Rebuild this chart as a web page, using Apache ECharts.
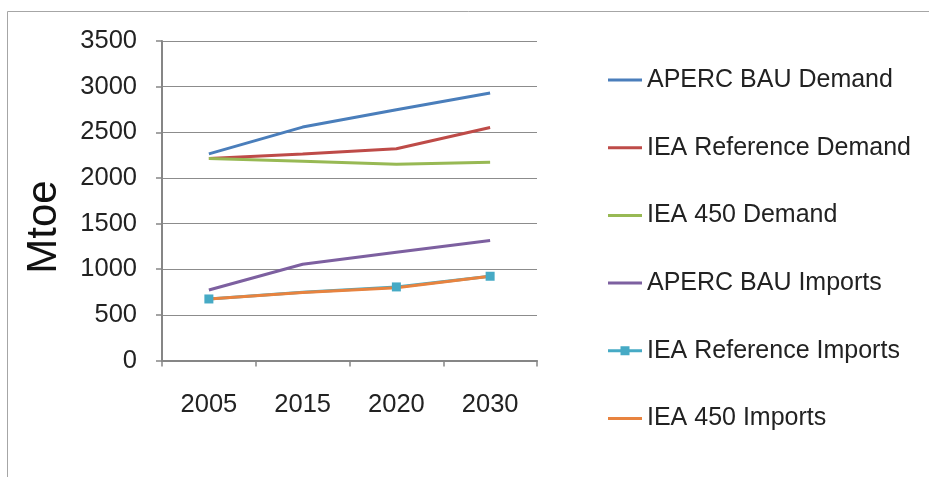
<!DOCTYPE html>
<html><head><meta charset="utf-8">
<script src="https://cdn.jsdelivr.net/npm/echarts@6/dist/echarts.min.js"></script>
<style>html,body{margin:0;padding:0;background:#fff}#c{width:929px;height:477px}</style>
</head><body><div id="c"></div>
<script>
const categories = ['2005', '2015', '2020', '2030'];
const apercBauDemand = [2264, 2557, 2747, 2930];
const ieaRefDemand = [2213, 2262, 2319, 2553];
const iea450Demand = [2213, 2184, 2151, 2173];
const apercBauImports = [773, 1055, 1186, 1314];
const ieaRefImports = [674, 748, 806, 923];
const iea450Imports = [674, 745, 798, 923];
const yTicks = [0, 500, 1000, 1500, 2000, 2500, 3000, 3500];
const seriesNames = ['APERC BAU Demand', 'IEA Reference Demand', 'IEA 450 Demand', 'APERC BAU Imports', 'IEA Reference Imports', 'IEA 450 Imports'];

const font = 'Liberation Sans, Arial, sans-serif';
const lineIcon = 'path://M0,0M34,14M0,5.5L34,5.5L34,8.5L0,8.5Z';
const markIcon = 'path://M0,0M34,14M0,5.5L12.5,5.5L12.5,2.5L21.5,2.5L21.5,5.5L34,5.5L34,8.5L21.5,8.5L21.5,11.5L12.5,11.5L12.5,8.5L0,8.5Z';
const chart = echarts.init(document.getElementById('c'));
function lineSeries(name, data, color, marker) {
  return {
    name, type: 'line', data: marker ? data.map((v, i) => i === 1 ? {value: v, symbolSize: 0} : v) : data,
    symbol: marker ? 'rect' : 'none', symbolSize: 9, showSymbol: !!marker,
    lineStyle: {color, width: 3}, itemStyle: {color},
    emphasis: {disabled: true}, animation: false
  };
}
chart.setOption({
  animation: false,
  grid: {left: 162, right: 392, top: 41, bottom: 116.5},
  graphic: [
    {type: 'line', shape: {x1: 7.5, y1: 11.5, x2: 929, y2: 11.5}, style: {stroke: '#a6a6a6', lineWidth: 1}},
    {type: 'line', shape: {x1: 7.5, y1: 11.5, x2: 7.5, y2: 477}, style: {stroke: '#a6a6a6', lineWidth: 1}},
    {type: 'text', x: 44, y: 227, rotation: Math.PI / 2,
      style: {text: 'Mtoe', font: '42px ' + font, fill: '#111', align: 'center', verticalAlign: 'middle'}}
  ],
  legend: {
    orient: 'vertical', left: 603, top: 61, itemWidth: 34, itemHeight: 14, itemGap: 39.7, itemTextGap: 1,
    textStyle: {fontFamily: font, fontSize: 25, color: '#222', lineHeight: 28},
    data: seriesNames.map((n, i) => ({name: n, icon: i === 4 ? markIcon : lineIcon}))
  },
  xAxis: {
    type: 'category', data: categories, boundaryGap: true,
    axisLine: {lineStyle: {color: '#868686', width: 2}},
    axisTick: {show: true, length: 6, lineStyle: {color: '#868686', width: 1.5}},
    axisLabel: {fontFamily: font, fontSize: 25.5, color: '#222', margin: 31}
  },
  yAxis: {
    type: 'value', min: 0, max: 3500, interval: 500,
    axisLine: {show: true, lineStyle: {color: '#868686', width: 2}},
    axisTick: {show: true, length: 6, lineStyle: {color: '#868686', width: 1.5}},
    splitLine: {lineStyle: {color: '#8c8c8c', width: 1}},
    axisLabel: {fontFamily: font, fontSize: 25.5, color: '#222', margin: 25,
      formatter: v => yTicks.includes(v) ? String(v) : ''}
  },
  series: [
    lineSeries(seriesNames[0], apercBauDemand, '#4A7EBB'),
    lineSeries(seriesNames[1], ieaRefDemand, '#BE4B48'),
    lineSeries(seriesNames[2], iea450Demand, '#98B954'),
    lineSeries(seriesNames[3], apercBauImports, '#7D60A0'),
    lineSeries(seriesNames[4], ieaRefImports, '#46AAC5', true),
    lineSeries(seriesNames[5], iea450Imports, '#E8833F')
  ]
});
</script></body></html>
